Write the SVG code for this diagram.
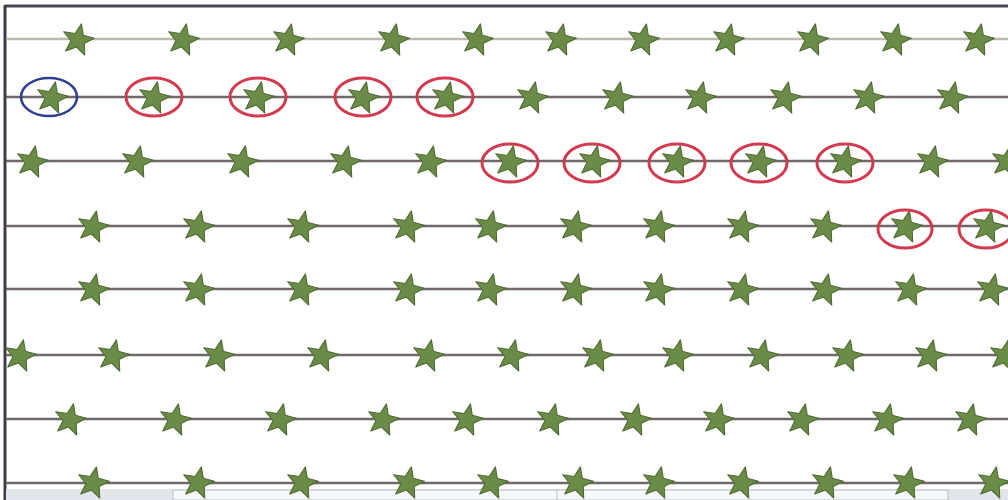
<svg xmlns="http://www.w3.org/2000/svg" width="1008" height="500" viewBox="0 0 1008 500">
<style>
.ln{stroke:#6f6866;stroke-width:2.5;fill:none}
.ln1{stroke:#bdb8ac;stroke-width:2.5;fill:none}
.red{fill:none;stroke:#d23a50;stroke-width:3}
.blue{fill:none;stroke:#2f3f8f;stroke-width:2.5}
</style>
<defs>
<polygon id="star" transform="scale(1.1)" points="3.12,-14.67 4.83,-4.35 14.92,-1.57 5.63,3.25 6.10,13.70 -1.35,6.36 -11.15,10.04 -6.46,0.68 -12.99,-7.5 -2.64,-5.94" fill="#6a8c46" stroke="#4f6a35" stroke-width="1" stroke-linejoin="round"/>
</defs>
<rect width="1008" height="500" fill="#ffffff"/>
<g id="frame">
<line x1="5" y1="6" x2="1008" y2="6" stroke="#4a4a55" stroke-width="3"/>
<line x1="5" y1="5" x2="5" y2="500" stroke="#3c3c46" stroke-width="3"/>
<rect x="6" y="489" width="1002" height="11" fill="#e1e6ec"/>
<rect x="173" y="490" width="775" height="10" fill="#f7f8fa" stroke="#b7bdc5" stroke-width="1"/>
<line x1="557" y1="490" x2="557" y2="500" stroke="#b7bdc5" stroke-width="1"/>
</g>
<g id="lines">
<line class="ln1" x1="6" y1="39" x2="1008" y2="39"/>
<line class="ln" x1="6" y1="97" x2="1008" y2="97"/>
<line class="ln" x1="6" y1="161" x2="1008" y2="161"/>
<line class="ln" x1="6" y1="226" x2="1008" y2="226"/>
<line class="ln" x1="6" y1="289" x2="1008" y2="289"/>
<line class="ln" x1="6" y1="355" x2="1008" y2="355"/>
<line class="ln" x1="6" y1="419" x2="1008" y2="419"/>
<line class="ln" x1="6" y1="483" x2="1008" y2="483"/>
</g>
<g id="row1">
<use href="#star" x="78" y="40"/><use href="#star" x="183" y="40"/><use href="#star" x="288" y="40"/><use href="#star" x="393" y="40"/><use href="#star" x="477" y="40"/><use href="#star" x="560" y="40"/><use href="#star" x="643" y="40"/><use href="#star" x="728" y="40"/><use href="#star" x="812" y="40"/><use href="#star" x="895" y="40"/><use href="#star" x="978" y="40"/>
</g>
<g id="row2">
<use href="#star" x="52" y="98"/><use href="#star" x="154" y="98"/><use href="#star" x="258" y="98"/><use href="#star" x="363" y="98"/><use href="#star" x="447" y="98"/><use href="#star" x="532" y="98"/><use href="#star" x="617" y="98"/><use href="#star" x="700" y="98"/><use href="#star" x="785" y="98"/><use href="#star" x="868" y="98"/><use href="#star" x="952" y="98"/>
</g>
<g id="row3">
<use href="#star" x="32" y="162"/><use href="#star" x="137" y="162"/><use href="#star" x="242" y="162"/><use href="#star" x="345" y="162"/><use href="#star" x="430" y="162"/><use href="#star" x="510" y="162"/><use href="#star" x="594" y="162"/><use href="#star" x="677" y="162"/><use href="#star" x="760" y="162"/><use href="#star" x="845" y="162"/><use href="#star" x="932" y="162"/><use href="#star" x="1007" y="162"/>
</g>
<g id="row4">
<use href="#star" x="93" y="227"/><use href="#star" x="198" y="227"/><use href="#star" x="302" y="227"/><use href="#star" x="408" y="227"/><use href="#star" x="490" y="227"/><use href="#star" x="575" y="227"/><use href="#star" x="658" y="227"/><use href="#star" x="742" y="227"/><use href="#star" x="825" y="227"/><use href="#star" x="906" y="227"/><use href="#star" x="988" y="227"/>
</g>
<g id="row5">
<use href="#star" x="93" y="290"/><use href="#star" x="198" y="290"/><use href="#star" x="302" y="290"/><use href="#star" x="408" y="290"/><use href="#star" x="490" y="290"/><use href="#star" x="575" y="290"/><use href="#star" x="658" y="290"/><use href="#star" x="742" y="290"/><use href="#star" x="825" y="290"/><use href="#star" x="910" y="290"/><use href="#star" x="992" y="290"/>
</g>
<g id="row6">
<use href="#star" x="20" y="356"/><use href="#star" x="113" y="356"/><use href="#star" x="218" y="356"/><use href="#star" x="322" y="356"/><use href="#star" x="428" y="356"/><use href="#star" x="512" y="356"/><use href="#star" x="597" y="356"/><use href="#star" x="677" y="356"/><use href="#star" x="762" y="356"/><use href="#star" x="847" y="356"/><use href="#star" x="930" y="356"/><use href="#star" x="1005" y="356"/>
</g>
<g id="row7">
<use href="#star" x="70" y="420"/><use href="#star" x="175" y="420"/><use href="#star" x="280" y="420"/><use href="#star" x="383" y="420"/><use href="#star" x="467" y="420"/><use href="#star" x="552" y="420"/><use href="#star" x="635" y="420"/><use href="#star" x="718" y="420"/><use href="#star" x="802" y="420"/><use href="#star" x="887" y="420"/><use href="#star" x="970" y="420"/>
</g>
<g id="row8">
<use href="#star" x="93" y="483"/><use href="#star" x="198" y="483"/><use href="#star" x="302" y="483"/><use href="#star" x="408" y="483"/><use href="#star" x="492" y="483"/><use href="#star" x="577" y="483"/><use href="#star" x="658" y="483"/><use href="#star" x="742" y="483"/><use href="#star" x="827" y="483"/><use href="#star" x="908" y="483"/><use href="#star" x="993" y="483"/>
</g>
<g id="marks">
<ellipse class="blue" cx="49" cy="97" rx="28" ry="19"/>
<ellipse class="red" cx="154" cy="97" rx="28" ry="19"/>
<ellipse class="red" cx="258" cy="97" rx="28" ry="19"/>
<ellipse class="red" cx="363" cy="97" rx="28" ry="19"/>
<ellipse class="red" cx="445" cy="97" rx="28" ry="19"/>
<ellipse class="red" cx="510" cy="163" rx="28" ry="19"/>
<ellipse class="red" cx="592" cy="163" rx="28" ry="19"/>
<ellipse class="red" cx="677" cy="163" rx="28" ry="19"/>
<ellipse class="red" cx="759" cy="163" rx="28" ry="19"/>
<ellipse class="red" cx="845" cy="163" rx="28" ry="19"/>
<ellipse class="red" cx="905" cy="229" rx="27" ry="19"/>
<ellipse class="red" cx="986" cy="229" rx="27" ry="19"/>
</g>
</svg>
